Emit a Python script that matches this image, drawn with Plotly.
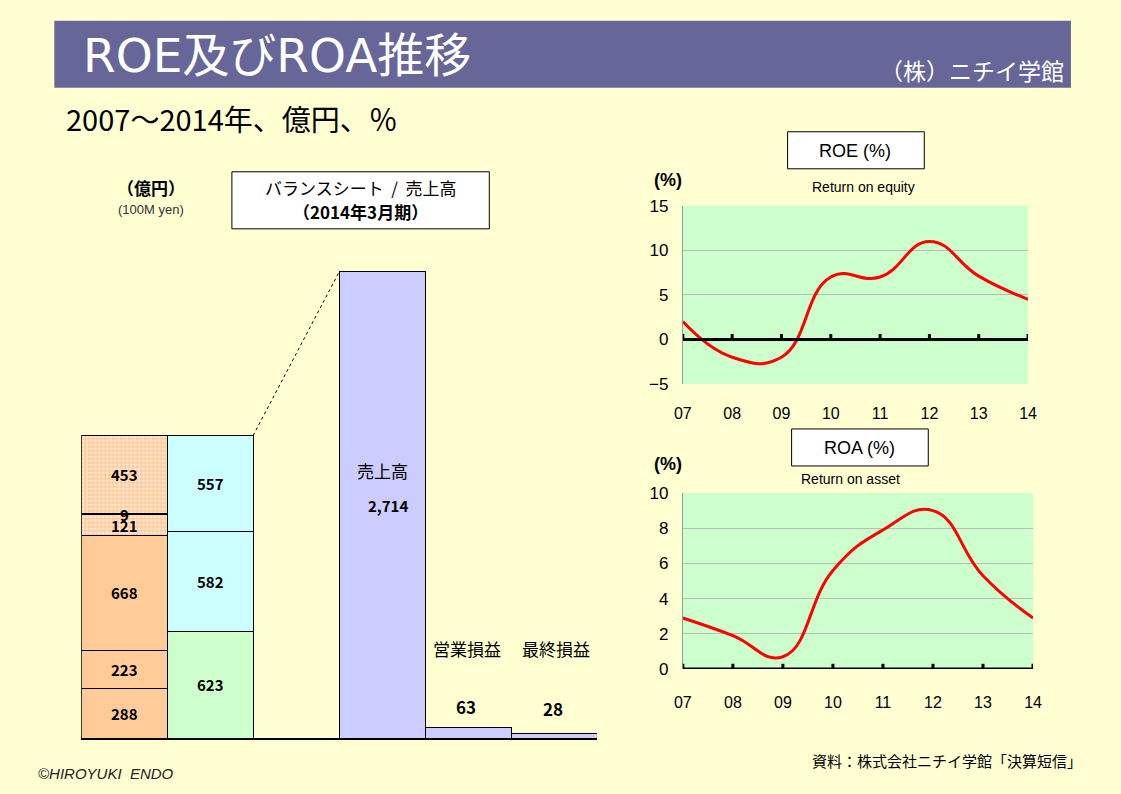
import plotly.graph_objects as go

# ---------------- data ----------------
years = ["07", "08", "09", "10", "11", "12", "13", "14"]
roe = [2.0, -2.0, -2.0, 7.0, 7.0, 11.0, 7.1, 4.5]
roa = [2.9, 1.9, 0.7, 5.6, 7.9, 9.0, 5.3, 2.9]

# balance sheet (2014/3), bottom -> top
assets_labels = ["288", "223", "668", "121", "9", "453"]
assets_values = [288, 223, 668, 121, 9, 453]
assets_pattern = [False, False, False, True, True, True]
liab_values = [623, 582, 557]
liab_colors = ["#CCFFCC", "#CCFFFF", "#CCFFFF"]

pl_names = ["売上高", "営業損益", "最終損益"]
pl_values = [2714, 63, 28]

# ---------------- layout helpers ----------------
W, H = 1105, 778
# mapping from target picture pixels to figure pixels (empirical page offset/scale)
BX, BY, SX, SY = 15.6, 17.3, 0.986, 0.975
BG = "#FFFFD2"
JP = "Noto Sans CJK JP"
LAT = "Liberation Sans"
WIDE = "DejaVu Sans, Noto Sans CJK JP"


def px(x):
    return (x - BX) / SX / W


def py(y):
    return 1 - (y - BY) / SY / H


fig = go.Figure()

# ---- left: balance sheet stacked columns ----
for v, pat in zip(assets_values, assets_pattern):
    marker = dict(color="#FFCC99", line=dict(color="black", width=1))
    if pat:
        marker["pattern"] = dict(shape=".", bgcolor="#FFCC99", fgcolor="#FFE9D6",
                                 size=4, solidity=0.4, fillmode="replace")
    fig.add_trace(go.Bar(x=[0.5], y=[v], width=1, marker=marker,
                         xaxis="x", yaxis="y", showlegend=False, hoverinfo="skip"))
for v, c in zip(liab_values, liab_colors):
    fig.add_trace(go.Bar(x=[1.5], y=[v], width=1,
                         marker=dict(color=c, line=dict(color="black", width=1)),
                         xaxis="x", yaxis="y", showlegend=False, hoverinfo="skip"))
fig.add_trace(go.Bar(x=[3.5, 4.5, 5.5], y=pl_values, width=1,
                     marker=dict(color="#CCCCFF", line=dict(color="black", width=1)),
                     xaxis="x", yaxis="y", showlegend=False, hoverinfo="skip"))

num_font = dict(family=JP, size=15, color="black", weight="bold")
annotations = []
cum = 0
for lab, v in zip(assets_labels, assets_values):
    annotations.append(dict(x=0.5, y=cum + v / 2, xref="x", yref="y", text=lab,
                            showarrow=False, font=num_font))
    cum += v
assets_total = cum
cum = 0
for v in liab_values:
    annotations.append(dict(x=1.5, y=cum + v / 2, xref="x", yref="y", text=str(v),
                            showarrow=False, font=num_font))
    cum += v
liab_total = cum

# ---- right: ROE / ROA lines ----
xi = list(range(len(years)))
fig.add_trace(go.Scatter(x=xi, y=roe, mode="lines", xaxis="x2", yaxis="y2",
                         line=dict(color="#FF0000", width=3, shape="spline", smoothing=1.3),
                         showlegend=False, hoverinfo="skip"))
fig.add_trace(go.Scatter(x=xi, y=roa, mode="lines", xaxis="x3", yaxis="y3",
                         line=dict(color="#FF0000", width=3, shape="spline", smoothing=1.3),
                         showlegend=False, hoverinfo="skip"))

shapes = []
# green plot areas
for xr, yr in (("x2", "y2"), ("x3", "y3")):
    shapes.append(dict(type="rect", xref=f"{xr} domain", yref=f"{yr} domain",
                       x0=0, x1=1, y0=0, y1=1, fillcolor="#CCFFCC",
                       line=dict(width=0), layer="below"))
# zero lines with ticks
shapes.append(dict(type="line", xref="x2", yref="y2", x0=0, x1=len(years) - 1, y0=0, y1=0,
                   line=dict(color="black", width=3)))
shapes.append(dict(type="line", xref="x3", yref="y3", x0=0, x1=len(years) - 1, y0=0, y1=0,
                   line=dict(color="black", width=3)))
for i in xi:
    shapes.append(dict(type="line", xref="x2", yref="y2", x0=i, x1=i, y0=0, y1=0.6,
                       line=dict(color="black", width=3)))
    shapes.append(dict(type="line", xref="x3", yref="y3", x0=i, x1=i, y0=0, y1=0.3,
                       line=dict(color="black", width=3)))
# dotted connector
shapes.append(dict(type="line", xref="x", yref="y", x0=2, y0=liab_total, x1=3, y1=pl_values[0],
                   line=dict(color="black", width=1, dash="dot")))
# title banner
shapes.append(dict(type="rect", xref="paper", yref="paper", x0=px(53), x1=px(1072),
                   y0=py(88), y1=py(21), fillcolor="#666699", line=dict(width=0), layer="below"))
# white boxes
for (x0, y0, x1, y1) in ((231, 172, 489, 229), (788, 132, 925, 169), (792, 429, 929, 466)):
    shapes.append(dict(type="rect", xref="paper", yref="paper", x0=px(x0), x1=px(x1),
                       y0=py(y1), y1=py(y0), fillcolor="white",
                       line=dict(color="black", width=1), layer="below"))


def txt(x, y, t, size, color="black", fam=JP, xa="center", ya="middle", weight="normal"):
    annotations.append(dict(x=px(x), y=py(y), xref="paper", yref="paper", text=t,
                            showarrow=False, xanchor=xa, yanchor=ya,
                            font=dict(family=fam, size=size, color=color, weight=weight)))


# sales / profit labels
txt(382, 471, pl_names[0], 17)
txt(387, 506, f"{pl_values[0]:,}", 15, weight="bold")
txt(467, 648, pl_names[1], 17)
txt(556, 648, pl_names[2], 17)
txt(466, 706, str(pl_values[1]), 17, weight="bold")
txt(553, 708, str(pl_values[2]), 17, weight="bold")

txt(80, 56, "ROE及びROA推移", 47, "white", fam=WIDE, xa="left")
txt(1067, 70, "（株）ニチイ学館", 23, "white", xa="right")
txt(63, 118, "2007～2014年、億円、％", 29, xa="left")
txt(150, 188, "<b>（億円）</b>", 17)
txt(150, 210, "(100M yen)", 13, "#333333", fam=LAT)
txt(360, 188, "バランスシート  /  売上高", 17)
txt(360, 212, "<b>（2014年3月期）</b>", 17)
txt(856, 151, "ROE (%)", 18, fam=LAT)
txt(668, 180, "<b>(%)</b>", 18, fam=LAT)
txt(864, 187, "Return on equity", 14, fam=LAT)
txt(860, 448, "ROA (%)", 18, fam=LAT)
txt(668, 464, "<b>(%)</b>", 18, fam=LAT)
txt(851, 479, "Return on asset", 14, fam=LAT)
txt(35, 773, "<i>©HIROYUKI  ENDO</i>", 15, "#222222", fam=LAT, xa="left")
txt(1085, 760, "資料：株式会社ニチイ学館「決算短信」", 15, xa="right")

axis_font = dict(family=LAT, size=17, color="black")

fig.update_layout(
    width=W, height=H, autosize=False,
    margin=dict(l=0, r=0, t=0, b=0),
    paper_bgcolor=BG, plot_bgcolor="rgba(0,0,0,0)",
    barmode="stack", showlegend=False,
    xaxis=dict(domain=[px(80), px(597)], range=[0, 6], showgrid=False, zeroline=False,
               showticklabels=False, ticks="", showline=True, linecolor="black",
               linewidth=2, anchor="y", fixedrange=True),
    yaxis=dict(domain=[py(738), py(223)], range=[0, 3000], showgrid=False, zeroline=False,
               showticklabels=False, ticks="", showline=False, anchor="x", fixedrange=True),
    xaxis2=dict(domain=[px(683), px(1029)], range=[0, len(years) - 1], tickvals=xi,
                ticktext=years, showgrid=False, zeroline=False, showline=False, ticks="",
                tickfont=dict(family=LAT, size=16, color="black"), ticklabelstandoff=18,
                anchor="y2"),
    yaxis2=dict(domain=[py(384), py(206)], range=[-5, 15], dtick=5, showgrid=True,
                gridcolor="#BBBBBB", gridwidth=1, zeroline=False, showline=True,
                linecolor="#999999", linewidth=1, ticks="", tickfont=axis_font,
                ticklabelstandoff=10, anchor="x2"),
    xaxis3=dict(domain=[px(683), px(1034)], range=[0, len(years) - 1], tickvals=xi,
                ticktext=years, showgrid=False, zeroline=False, showline=False, ticks="",
                tickfont=dict(family=LAT, size=16, color="black"), ticklabelstandoff=22,
                anchor="y3"),
    yaxis3=dict(domain=[py(669), py(493)], range=[0, 10], dtick=2, showgrid=True,
                gridcolor="#BBBBBB", gridwidth=1, zeroline=False, showline=True,
                linecolor="#999999", linewidth=1, ticks="", tickfont=axis_font,
                ticklabelstandoff=10, anchor="x3"),
    shapes=shapes,
    annotations=annotations,
)

post = "document.documentElement.style.background='" + BG + "';document.body.style.background='" + BG + "';"

fig.write_html("out.html", post_script=post,
               config={"displayModeBar": False, "responsive": False, "staticPlot": True})
